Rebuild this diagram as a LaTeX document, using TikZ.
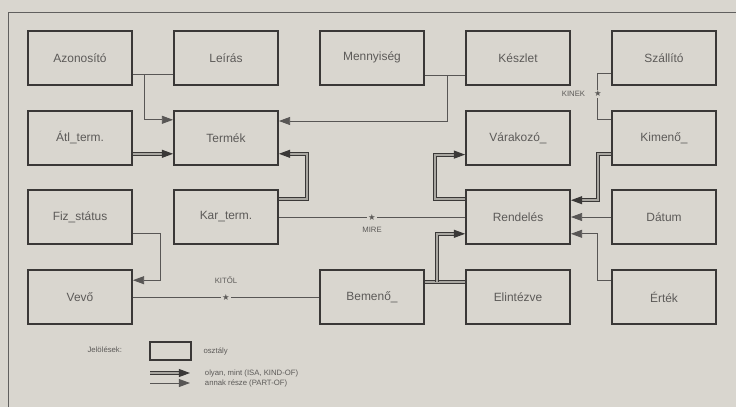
\documentclass[tikz,border=0pt]{standalone}
\usepackage{fontspec}
\setsansfont{Liberation Sans}
\newfontfamily\symfont{DejaVu Sans}
\usetikzlibrary{calc,positioning,arrows.meta}
\definecolor{figPaper}{HTML}{D9D6CF}
\definecolor{figInk}{HTML}{3A3837}
\definecolor{figText}{HTML}{5C5A58}

\begin{document}
\begin{tikzpicture}[
  every node/.style={font=\sffamily\fontsize{8.5}{10}\selectfont, text=figText},
  entity/.style={draw=figInk, line width=1.3pt, minimum width=2.6cm,
             minimum height=1.35cm, inner sep=2pt},
  part/.style={draw=figInk!85, line width=0.6pt},
  isa/.style={draw=figInk, line width=0.75pt, double=figPaper!70!figInk, double distance=1.3pt},
  tip/.style={-{Triangle[length=2.8mm,width=2mm]}},
  rolelbl/.style={font=\sffamily\fontsize{5.5}{6}\selectfont},
  starpt/.style={fill=figPaper, inner sep=0.6pt, font=\symfont\fontsize{6}{6}\selectfont},
]

% Paper and frame
\fill[figPaper] (0,0) rectangle (18.4,10.175);
\useasboundingbox (0,0) rectangle (18.4,10.175);
\draw[figInk!80, line width=0.6pt] (0.2,0) |- (18.4,9.875);

% Classes, row by row
\node[entity] (azon) at (2.0,8.73) {Azonosító};
\node[entity] (leiras) at (5.65,8.73) {Leírás};
\node[entity] (menny) at (9.3,8.73) {Mennyiség};
\node[entity] (keszlet) at (12.95,8.73) {Készlet};
\node[entity] (szall) at (16.6,8.73) {Szállító};

\node[entity] (atl) at (2.0,6.73) {Átl\_term.};
\node[entity] (termek) at (5.65,6.73) {Termék};
\node[entity] (varak) at (12.95,6.73) {Várakozó\_};
\node[entity] (kimeno) at (16.6,6.73) {Kimenő\_};

\node[entity] (fiz) at (2.0,4.75) {Fiz\_státus};
\node[entity] (kar) at (5.65,4.75) {Kar\_term.};
\node[entity] (rendeles) at (12.95,4.75) {Rendelés};
\node[entity] (datum) at (16.6,4.75) {Dátum};

\node[entity] (vevo) at (2.0,2.75) {Vevő};
\node[entity] (bemeno) at (9.3,2.75) {Bemenő\_};
\node[entity] (elint) at (12.95,2.75) {Elintézve};
\node[entity] (ertek) at (16.6,2.75) {Érték};

% Part-of links into Termek
\draw[part] ([yshift=-0.42cm]azon.east) -- ([yshift=-0.42cm]leiras.west);
\coordinate (jA) at ($([yshift=-0.42cm]azon.east)+(0.3,0)$);
\draw[part,tip] (jA) |- ([yshift=0.45cm]termek.west);
\draw[part] ([yshift=-0.45cm]menny.east) -- ([yshift=-0.45cm]keszlet.west);
\coordinate (jM) at ($([yshift=-0.45cm]menny.east)+(0.55,0)$);
\draw[part,tip] (jM) |- ([yshift=0.42cm]termek.east);

% ISA links into Termek
\draw[isa,tip] ([yshift=-0.4cm]atl.east) -- ([yshift=-0.4cm]termek.west);
\draw[isa,tip] ([yshift=0.45cm]kar.east) -- ++(0.7,0) |- ([yshift=-0.4cm]termek.east);

% Associations with a star
\draw[part] (kar) -- node[starpt] (sMire) {★} (rendeles);
\node[rolelbl, below=0.5pt of sMire] {MIRE};
\draw[part] (vevo) -- node[starpt] (sKitol) {★} (bemeno);
\node[rolelbl, above=3pt of sKitol] {KITŐL};
\draw[part] ([yshift=-0.4cm]szall.west) -- ++(-0.33,0)
  |- node[pos=0.22, starpt] (sKinek) {★} ([yshift=0.47cm]kimeno.west);
\node[rolelbl, left=2pt of sKinek] {KINEK};

% Fiz_status -> Vevo
\draw[part,tip] ([yshift=-0.42cm]fiz.east) -- ++(0.68,0) |- ([yshift=0.42cm]vevo.east);

% Around Rendeles
\draw[isa] ([yshift=0.38cm]bemeno.east) -- ([yshift=0.38cm]elint.west);
\coordinate (jB) at ($([yshift=0.38cm]bemeno.east)+(0.3,0)$);
\draw[isa,tip] (jB) |- ([yshift=-0.42cm]rendeles.west);
\draw[isa,tip] ([yshift=0.45cm]rendeles.west) -- ++(-0.75,0) |- ([yshift=-0.42cm]varak.west);
\draw[isa,tip] ([yshift=-0.4cm]kimeno.west) -- ++(-0.33,0) |- ([yshift=0.42cm]rendeles.east);
\draw[part,tip] (datum) -- (rendeles);
\draw[part,tip] ([yshift=0.42cm]ertek.west) -- ++(-0.33,0) |- ([yshift=-0.42cm]rendeles.east);

% Legend
\node[rolelbl] (jelol) at (2.62,1.43) {Jelölések:};
\node[draw=figInk, line width=1.1pt, minimum width=1.02cm, minimum height=0.45cm] (legbox) at (4.26,1.4) {};
\node[rolelbl, right=5pt of legbox] (legosz) {osztály};
\coordinate (isaA) at (3.75,0.85);
\coordinate (isaB) at (4.75,0.85);
\draw[isa,tip] (isaA) -- (isaB);
\node[rolelbl, anchor=west] (legisa) at (5.0,0.85) {olyan, mint (ISA, KIND-OF)};
\coordinate (partA) at (3.75,0.6);
\coordinate (partB) at (4.75,0.6);
\draw[part,tip] (partA) -- (partB);
\node[rolelbl, anchor=west] (legpart) at (5.0,0.6) {annak része (PART-OF)};

\end{tikzpicture}
\end{document}
